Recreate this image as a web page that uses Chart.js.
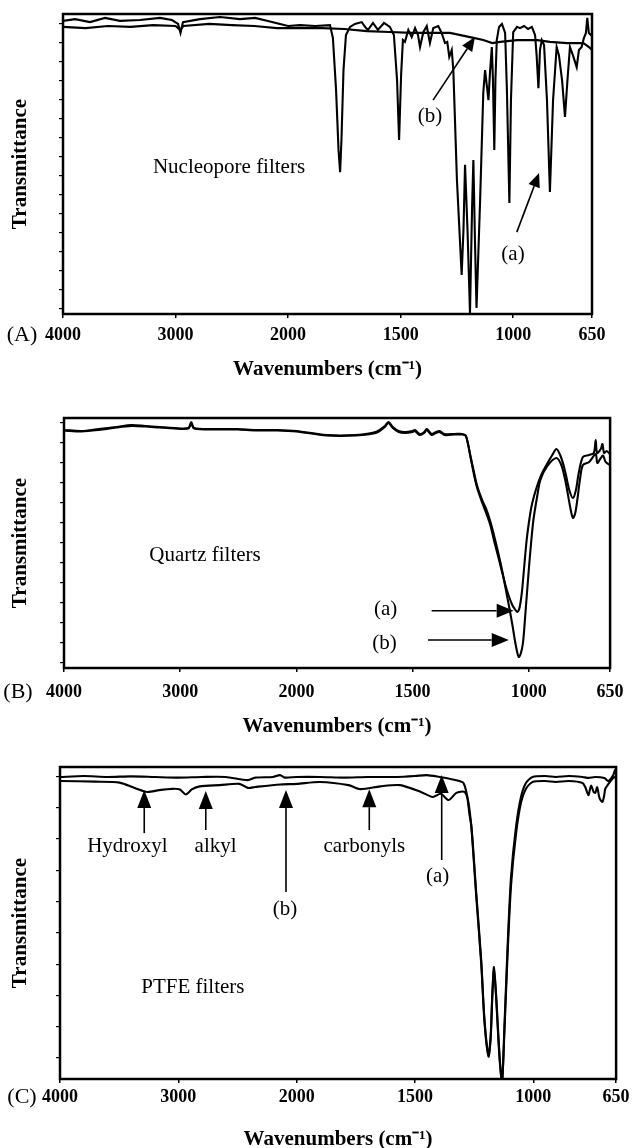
<!DOCTYPE html>
<html>
<head>
<meta charset="utf-8">
<title>FTIR spectra of filters</title>
<script src="https://cdn.jsdelivr.net/npm/chart.js@4.4.1/dist/chart.umd.min.js"></script>
<style>
    body { margin: 0; background: #fff; overflow: hidden; }
    .panel { position: absolute; left: 0; width: 633px; }
</style>
</head>
<body>
<div class="panel" style="top:0;height:390px"><canvas id="chartA"></canvas></div>
<div class="panel" style="top:390px;height:350px"><canvas id="chartB"></canvas></div>
<div class="panel" style="top:740px;height:420px"><canvas id="chartC"></canvas></div>
<script>
// Tick labels on the wavenumber axis
const wavenumberTicks = [4000, 3000, 2000, 1500, 1000, 650];

// (A) Nucleopore filters
const nucleoWnA = [4000,3893,3760,3627,3494,3316,3138,3032,2978,2956,2934,2783,2605,2427,2294,2179,2072,2000,1947,1880,
    1814,1801,1787,1776,1769,1763,1754,1743,1725,1703,1673,1654,1645,1623,1601,1574,1548,1530,1516,1507,
    1498,1490,1481,1466,1451,1436,1423,1414,1399,1384,1370,1355,1333,1318,1303,1293,1284,1273,1266,1250,
    1229,1221,1214,1203,1192,1183,1177,1170,1163,1147,1133,1125,1116,1110,1103,1095,1090,1084,1079,1073,
    1063,1050,1036,1028,1017,1010,1000,983,970,952,934,917,903,896,888,881,873,863,850,837,
    823,807,797,783,770,759,748,735,718,708,696,686,677,671,664,650];
const nucleoA = [97.7,98.3,97.3,98.7,97.7,98,98.7,98,96.7,93.7,97.3,98.3,99,98.3,98.7,97.7,96.7,96,96.3,96,
    96.3,92,74.7,54.7,47.3,58,81.3,93,95.7,96.7,97.3,95.3,94.7,97,94.7,97,95.7,93,78,58,
    79.7,91.3,90.7,94.7,92.3,95.3,93,89,94,96,90.3,95.3,96,93.7,90.3,90.7,85.7,88,81.3,44.7,
    13,28,49.7,28,0.3,34.7,51.3,24.7,2,38,73.7,81.3,75.3,71.3,80.7,89,78,54.7,78,91.3,
    95.7,96.7,93.7,74.7,37,71.3,94,95.7,95.3,96,95,95.7,93,86.3,75.3,88,91.3,89.7,71.3,40.7,
    71.3,89,86.3,78,65.7,78,89,86.3,82.3,88,89,92,93.7,98.7,93.7,92.7];
const nucleoWnB = [4000,3800,3600,3400,3200,3000,2960,2930,2700,2500,2300,2100,2000,1850,1750,1650,1550,1450,1350,1281,
    1192,1133,1093,1058,983,893,837,760,688,659,650];
const nucleoB = [95.7,95.3,96,95.7,96.3,96,94.7,96,96.7,96.3,96,95.3,95.3,95.3,95,94.3,94,93.7,93.7,93.7,
    92.3,91.3,90.3,90.7,91.3,91.3,90.7,90.3,90.3,88.7,88];

// (B) Quartz filters
const quartzWnA = [4000,3850,3700,3550,3420,3300,3180,3050,2930,2905,2880,2700,2506,2350,2166,2000,1871,1744,1659,1620,
    1604,1585,1560,1532,1500,1490,1469,1450,1439,1418,1400,1384,1362,1320,1286,
    1270,1250,1235,1222,1200,1185,1165,1150,1130,1115,1100,1086,1070,1060,1050,1040,1030,1022,1009,995,
    985,967,945,924,900,881,865,850,840,825,810,797,785,767,740,720,712,706,690,683,676,665,651];
const quartzA = [95.2,94.8,95.6,96.4,97.2,96.8,96.4,96,96,98.4,96,95.6,95.6,95.2,95.2,94.8,93.2,93.2,94.4,96.8,
    98.4,96.4,94.8,94.4,94.8,95.2,93.6,94.4,95.6,93.6,94.4,94.8,93.6,93.6,93.6,
    92.8,84,77,72,66,62.4,57,51.2,44,38.4,33,28.8,25,23.6,22.4,24,30,38,51.2,61,
    66,72,77.5,81.2,85,87.6,85.2,81,77.2,71,68,71.2,78,84.4,85.2,86,91.2,86,87.6,89.6,86,86.8,85.6];
const quartzWnB = [4000,3850,3700,3550,3420,3300,3180,3050,2930,2905,2880,2700,2506,2350,2166,2000,1871,1744,1659,1620,
    1604,1585,1560,1532,1500,1490,1469,1450,1439,1418,1400,1384,1362,1320,1286,
    1270,1250,1235,1222,1200,1185,1165,1150,1130,1115,1100,1086,1070,1060,1050,1043,1035,1025,1015,1000,
    990,980,965,950,920,881,860,845,835,820,810,800,790,780,767,740,712,705,690,680,670,651];
const quartzB = [95,94.6,95.2,96.2,96.8,96.6,96.2,95.8,95.8,97.6,95.8,95.4,95.4,95,95,94.6,93,93,94,96.4,
    98,96,94.4,94,94.4,94.8,93.2,94,95.2,93.2,94,94.4,93.2,93.4,93.4,
    92.6,84.4,78,72.8,67,64,58.5,53.2,45.5,39.2,32,25.2,17,11.2,6.4,4.4,5.6,10,21.2,39.2,
    50,59.2,68,75.2,80.8,84,81.2,76,71.2,63.5,60,62,68,75.2,81.2,82.4,85.6,82,84,85,82.5,81.2];

// (C) PTFE filters
const ptfeWnA = [4000,3800,3600,3400,3200,3000,2800,2600,2412,2350,2200,2140,2100,2000,1900,1800,1700,1576,1500,1450,
    1396,1345,1312,1295,1280,1270,1261,1241,1220,1206,1189,1180,1173,1166,1157,1143,1132,1122,1108,1094,
    1073,1052,1031,1003,950,905,850,792,767,738,700,683,662,655,650];
const ptfeA = [96.8,97.1,96.8,97,96.8,96.6,96.8,96.8,95.8,96.6,96.8,97.4,96.6,96.8,96.8,96.6,96.8,96.8,97.1,97.4,
    96.8,96.1,95.5,94.9,91,85,80.8,59.6,38.1,18.9,7.7,14,27.6,35.9,27,8,-1,16.7,43.6,64.7,
    80.8,90.4,94.9,96.8,97.1,96.8,97.1,96.8,96.5,96.8,96.5,95.5,97.4,99,98.1];
const ptfeWnB = [4000,3700,3497,3363,3263,3162,3050,2986,2936,2886,2819,2650,2484,2412,2350,2140,2000,1902,1781,1731,
    1647,1563,1475,1425,1391,1358,1325,1291,1275,1261,1241,1220,1206,1189,1180,1173,1166,1157,1143,1132,
    1122,1108,1094,1073,1052,1031,1003,950,905,850,792,780,767,760,755,745,738,730,720,708,
    700,696,683,670,662,650];
const ptfeB = [95.5,95.3,95,93.2,92,92.6,93,92.8,91.2,92.8,93.8,94.2,94.6,93.3,93.6,94.4,94.6,95.2,94.2,92.9,
    93.8,94.2,92,90.4,91.4,89.4,91.7,92,89,80,58.5,37,18,7.2,13,26.5,35,26,7,-1,
    15,41,62,78.5,88.5,93,95.2,95.5,95.2,95.5,94.9,93.5,91,93,94,92,91.7,93.5,90,88.8,
    91,93,94.5,95.8,96.5,97];

const SERIF = '"Liberation Serif", "Times New Roman", serif';
Chart.defaults.font.family = SERIF;
Chart.defaults.color = '#000';

// Spectrometer axis: 4000-2000 at one scale, below 2000 expanded twice
function wavenumberToDecimal(v) {
    return v >= 2000 ? (4000 - v) / 4700 : (2000 + 2 * (2000 - v)) / 4700;
}
function decimalToWavenumber(d) {
    const u = d * 4700;
    return u <= 2000 ? 4000 - u : 2000 - (u - 2000) / 2;
}

class WavenumberScale extends Chart.LinearScale {
    static id = 'wavenumber';
    static defaults = {};
    getPixelForValue(value) {
        if (value === null || value === undefined || isNaN(value)) return NaN;
        return this.getPixelForDecimal(wavenumberToDecimal(value));
    }
    getValueForPixel(pixel) {
        return decimalToWavenumber(this.getDecimalForPixel(pixel));
    }
}
Chart.register(WavenumberScale);

function drawArrow(ctx, x1, y1, x2, y2, len, half) {
    const ang = Math.atan2(y2 - y1, x2 - x1);
    const bx = x2 - len * Math.cos(ang), by = y2 - len * Math.sin(ang);
    ctx.beginPath();
    ctx.moveTo(x1, y1);
    ctx.lineTo(bx, by);
    ctx.stroke();
    ctx.beginPath();
    ctx.moveTo(x2, y2);
    ctx.lineTo(bx + half * Math.sin(ang), by - half * Math.cos(ang));
    ctx.lineTo(bx - half * Math.sin(ang), by + half * Math.cos(ang));
    ctx.closePath();
    ctx.fill();
}

// Frame, labels and arrows placed in data coordinates
const figureNotes = {
    id: 'figureNotes',
    afterDraw(chart, args, opts) {
        const {ctx, chartArea: area, scales: {x, y}} = chart;
        ctx.save();
        ctx.strokeStyle = '#000';
        ctx.fillStyle = '#000';
        ctx.lineWidth = 2.5;
        ctx.strokeRect(area.left, area.top, area.width, area.height);

        ctx.font = '21px ' + SERIF;
        ctx.textAlign = 'center';
        ctx.textBaseline = 'middle';
        (opts.texts || []).forEach(t => {
            ctx.fillText(t.text, x.getPixelForValue(t.at[0]), y.getPixelForValue(t.at[1]));
        });

        ctx.lineWidth = 1.6;
        (opts.arrows || []).forEach(a => {
            drawArrow(ctx,
                x.getPixelForValue(a.from[0]), y.getPixelForValue(a.from[1]),
                x.getPixelForValue(a.to[0]), y.getPixelForValue(a.to[1]),
                opts.head[0], opts.head[1]);
        });

        if (opts.panel) {
            ctx.font = '22px ' + SERIF;
            ctx.fillText(opts.panel.text, area.left + opts.panel.dx, area.bottom + opts.panel.dy);
        }
        ctx.restore();
    }
};

function toPoints(wn, t) {
    return wn.map((w, i) => ({x: w, y: t[i]}));
}

function makeChart(id, series, geo, notes) {
    return new Chart(document.getElementById(id), {
        type: 'line',
        data: {
            datasets: series.map(s => ({
                label: s.label,
                data: toPoints(s.wn, s.values),
                borderColor: '#000',
                borderWidth: 2.1,
                pointRadius: 0,
                tension: geo.tension,
                fill: false
            }))
        },
        options: {
            responsive: true,
            maintainAspectRatio: false,
            animation: false,
            layout: { padding: { top: geo.top, right: geo.right, left: 0, bottom: 0 } },
            plugins: {
                legend: { display: false },
                tooltip: { enabled: false },
                figureNotes: notes
            },
            scales: {
                x: {
                    type: 'wavenumber',
                    min: 650,
                    max: 4000,
                    border: { display: false },
                    grid: { drawOnChartArea: false, drawTicks: true, tickLength: 4, color: '#000', lineWidth: 1.5 },
                    afterBuildTicks: s => { s.ticks = wavenumberTicks.map(v => ({value: v})); },
                    afterFit: s => { s.height = geo.xHeight; },
                    ticks: {
                        autoSkip: false,
                        maxRotation: 0,
                        padding: geo.tickPad,
                        font: { size: 18, weight: 'bold' },
                        callback: v => String(v)
                    },
                    title: {
                        display: true,
                        text: 'Wavenumbers (cm\u207B\u00B9)',
                        font: { size: 21, weight: 'bold' },
                        padding: { top: 0, bottom: geo.titlePad }
                    }
                },
                y: {
                    min: 0,
                    max: 100,
                    border: { display: false },
                    grid: { drawOnChartArea: false, drawTicks: true, tickLength: 4, color: '#000', lineWidth: 1.2 },
                    afterBuildTicks: s => {
                        const t = [];
                        for (let v = geo.yFirst; v <= 100; v += geo.yStep) t.push({value: v});
                        s.ticks = t;
                    },
                    afterFit: s => { s.width = geo.yWidth; },
                    ticks: { display: false },
                    title: {
                        display: true,
                        text: 'Transmittance',
                        font: { size: 21, weight: 'bold' },
                        padding: { top: 8, bottom: 0 }
                    }
                }
            }
        },
        plugins: [figureNotes]
    });
}

makeChart('chartA', [
    { label: '(a)', wn: nucleoWnA, values: nucleoA },
    { label: '(b)', wn: nucleoWnB, values: nucleoB }
], { top: 14, right: 41, yWidth: 63, xHeight: 76, tickPad: 6.4, titlePad: 7.4, yFirst: 1.8, yStep: 6.34, tension: 0 }, {
    panel: { text: '(A)', dx: -41, dy: 21 },
    head: [14, 6],
    texts: [
        { text: 'Nucleopore filters', at: [2525, 49] },
        { text: '(b)', at: [1370, 65.7] },
        { text: '(a)', at: [1001, 19.7] }
    ],
    arrows: [
        { from: [1356, 71.3], to: [1170, 92.3] },
        { from: [984, 27.3], to: [885, 47] }
    ]
});

makeChart('chartB', [
    { label: '(a)', wn: quartzWnA, values: quartzA },
    { label: '(b)', wn: quartzWnB, values: quartzB }
], { top: 28, right: 15.5, yWidth: 64, xHeight: 72, tickPad: 9.4, titlePad: 0.4, yFirst: 2, yStep: 8, tension: 0.3 }, {
    panel: { text: '(B)', dx: -46, dy: 24 },
    head: [17, 7],
    texts: [
        { text: 'Quartz filters', at: [2786, 45.2] },
        { text: '(a)', at: [1616, 23.6] },
        { text: '(b)', at: [1621, 10] }
    ],
    arrows: [
        { from: [1418, 22.9], to: [1065, 22.9] },
        { from: [1434, 11.2], to: [1086, 11.2] }
    ]
});

makeChart('chartC', [
    { label: '(a)', wn: ptfeWnA, values: ptfeA },
    { label: '(b)', wn: ptfeWnB, values: ptfeB }
], { top: 27, right: 12, yWidth: 60, xHeight: 81, tickPad: 3.4, titlePad: 7.4, yFirst: 6.7, yStep: 10.03, tension: 0.25 }, {
    panel: { text: '(C)', dx: -38, dy: 18 },
    head: [18, 7],
    texts: [
        { text: 'Hydroxyl', at: [3430, 74.4] },
        { text: 'alkyl', at: [2685, 74.4] },
        { text: 'carbonyls', at: [1714, 74.4] },
        { text: '(b)', at: [2098, 54.2] },
        { text: '(a)', at: [1404, 65] },
        { text: 'PTFE filters', at: [2877, 29.2] }
    ],
    arrows: [
        { from: [3288, 78.8], to: [3288, 92.6] },
        { from: [2768, 79.8], to: [2768, 92.3] },
        { from: [2090, 59.9], to: [2090, 92.6] },
        { from: [1693, 79.8], to: [1693, 92.9] },
        { from: [1387, 70.2], to: [1387, 97.4] }
    ]
});
</script>
</body>
</html>
